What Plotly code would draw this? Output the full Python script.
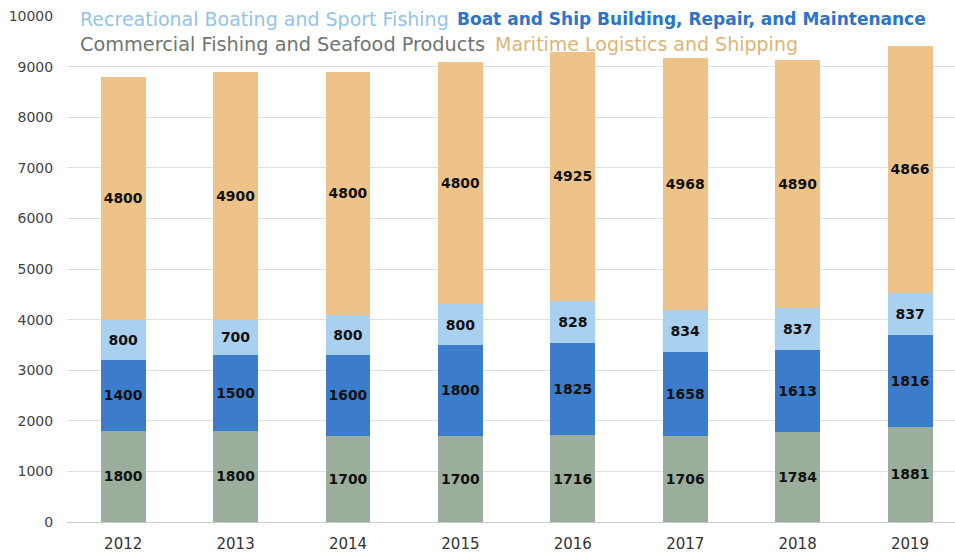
import plotly.graph_objects as go

years = ["2012", "2013", "2014", "2015", "2016", "2017", "2018", "2019"]
commercial = [1800, 1800, 1700, 1700, 1716, 1706, 1784, 1881]
boat = [1400, 1500, 1600, 1800, 1825, 1658, 1613, 1816]
recreational = [800, 700, 800, 800, 828, 834, 837, 837]
maritime = [4800, 4900, 4800, 4800, 4925, 4968, 4890, 4866]

series = [
    ("Commercial Fishing and Seafood Products", commercial, "#9bae9c"),
    ("Boat and Ship Building, Repair, and Maintenance", boat, "#3b7dca"),
    ("Recreational Boating and Sport Fishing", recreational, "#a9d0ee"),
    ("Maritime Logistics and Shipping", maritime, "#eec389"),
]

FONT = "DejaVu Sans"

fig = go.Figure()
for name, vals, col in series:
    fig.add_trace(go.Bar(
        x=years, y=vals, name=name,
        marker=dict(color=col, line=dict(width=0)),
        text=[f"<b>{v}</b>" for v in vals],
        textposition="inside", insidetextanchor="middle",
        textfont=dict(color="#111111", size=14, family=FONT),
        textangle=0,
        showlegend=False,
    ))

L, R, T, B = 67, 0, 16, 32
W, H = 955 - L - R, 554 - T - B
legend_items = [
    ("Recreational Boating and Sport Fishing", "#93c3e6", 78, 19, 19),
    ("<b>Boat and Ship Building, Repair, and Maintenance</b>", "#2b74c8", 455, 19, 17),
    ("Commercial Fishing and Seafood Products", "#6f756f", 78, 44, 19.3),
    ("Maritime Logistics and Shipping", "#ddb477", 493, 44, 19),
]
annotations = []
for txt, col, px, py, size in legend_items:
    annotations.append(dict(
        text=txt, xref="paper", yref="paper",
        x=(px - L) / W, y=(554 - B - py) / H,
        xanchor="left", yanchor="middle", showarrow=False,
        font=dict(color=col, size=size, family=FONT),
    ))

fig.update_layout(
    barmode="stack",
    bargap=0.6,
    width=955, height=554,
    margin=dict(l=L, r=R, t=T, b=B),
    plot_bgcolor="white", paper_bgcolor="white",
    font=dict(family=FONT, color="#444444"),
    annotations=annotations,
    xaxis=dict(range=[-0.5, 7.4], showgrid=False, showline=True, linecolor="#cccccc",
               tickfont=dict(size=15, color="#333333", family=FONT),
               ticks="outside", ticklen=8, tickcolor="rgba(0,0,0,0)"),
    yaxis=dict(range=[0, 10000], dtick=1000, tickformat="d", showgrid=True,
               gridcolor="#e0e0e0", zeroline=False,
               tickfont=dict(size=14, color="#444444", family=FONT),
               ticks="outside", ticklen=10, tickcolor="rgba(0,0,0,0)"),
)

fig.write_html("out.html", config={"displayModeBar": False},
               post_script="document.body.style.margin='0px';")
